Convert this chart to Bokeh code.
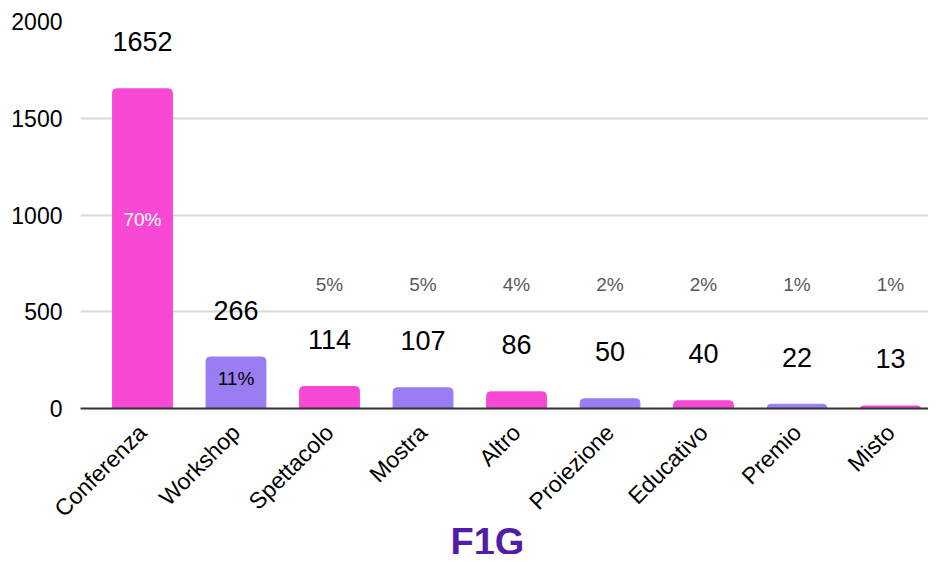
from bokeh.plotting import figure
from bokeh.models import ColumnDataSource, Range1d, FixedTicker, Title
from bokeh.core.properties import value
from bokeh.embed import file_html
from bokeh.resources import INLINE

categories = ["Conferenza", "Workshop", "Spettacolo", "Mostra", "Altro",
              "Proiezione", "Educativo", "Premio", "Misto"]
counts = [1652, 266, 114, 107, 86, 50, 40, 22, 13]
percent_labels = ["70%", "11%", "5%", "5%", "4%", "2%", "2%", "1%", "1%"]
y_ticks = [0, 500, 1000, 1500, 2000]
chart_title = "F1G"

PINK = "#F749D6"
PURPLE = "#9B7DF3"
FONT = "Liberation Sans"

xs = list(range(len(categories)))
colors = [PINK if i % 2 == 0 else PURPLE for i in xs]

# percentage label placement: inside tall bars, above the value labels otherwise
inside = [c > 200 for c in counts]
pct_y = [c * 0.59 if ins else 640 for c, ins in zip(counts, inside)]
pct_color = ["white" if i == 0 else ("black" if ins else "#595959")
             for i, ins in enumerate(inside)]

src = ColumnDataSource(dict(x=xs, top=counts, color=colors,
                            lbl=[str(c) for c in counts]))
psrc = ColumnDataSource(dict(x=xs, y=pct_y, pct=percent_labels, pc=pct_color))

p = figure(width=928, height=554, output_backend="svg", toolbar_location=None,
           x_range=Range1d(-0.663, 8.406), y_range=Range1d(0, 2000),
           min_border_left=80, min_border_right=0, min_border_top=21,
           min_border_bottom=146)
p.frame_height = 387
p.frame_width = 848
p.outline_line_color = None
p.background_fill_color = "white"

p.vbar(x="x", top="top", width=0.64, bottom=0, color="color", source=src,
       border_radius=(4, 4, 0, 0))

p.text(x="x", y="top", text="lbl", source=src, y_offset=-47,
       text_align="center", text_baseline="middle", text_font=value(FONT),
       text_font_size="27px", text_color="black")
p.text(x="x", y="y", text="pct", source=psrc, text_align="center",
       text_baseline="middle", text_font=value(FONT), text_font_size="19px",
       text_color="pc")

# axes
p.xaxis.ticker = FixedTicker(ticks=xs)
p.xaxis.major_label_overrides = {i: c for i, c in zip(xs, categories)}
p.xaxis.major_label_orientation = 0.785398
p.xaxis.major_tick_line_color = None
p.xaxis.minor_tick_line_color = None
p.xaxis.axis_line_color = "#333333"
p.xaxis.axis_line_width = 2
p.xaxis.major_label_text_font = FONT
p.xaxis.major_label_text_font_size = "23px"
p.xaxis.major_label_text_color = "black"
p.xaxis.major_label_standoff = 14
p.xgrid.grid_line_color = None

p.yaxis.ticker = FixedTicker(ticks=y_ticks)
p.yaxis.axis_line_color = None
p.yaxis.major_tick_line_color = None
p.yaxis.minor_tick_line_color = None
p.yaxis.major_label_text_font = FONT
p.yaxis.major_label_text_font_size = "23px"
p.yaxis.major_label_text_color = "black"
p.yaxis.major_label_standoff = 12
p.ygrid.grid_line_color = "#d9d9d9"
p.ygrid.grid_line_width = 2

t = Title(text=chart_title, align="left", offset=370, standoff=-30,
          text_font=FONT, text_font_size="38px", text_font_style="bold",
          text_color="#501CA8")
p.add_layout(t, "below")

open("out.html", "w").write(file_html(p, INLINE))
